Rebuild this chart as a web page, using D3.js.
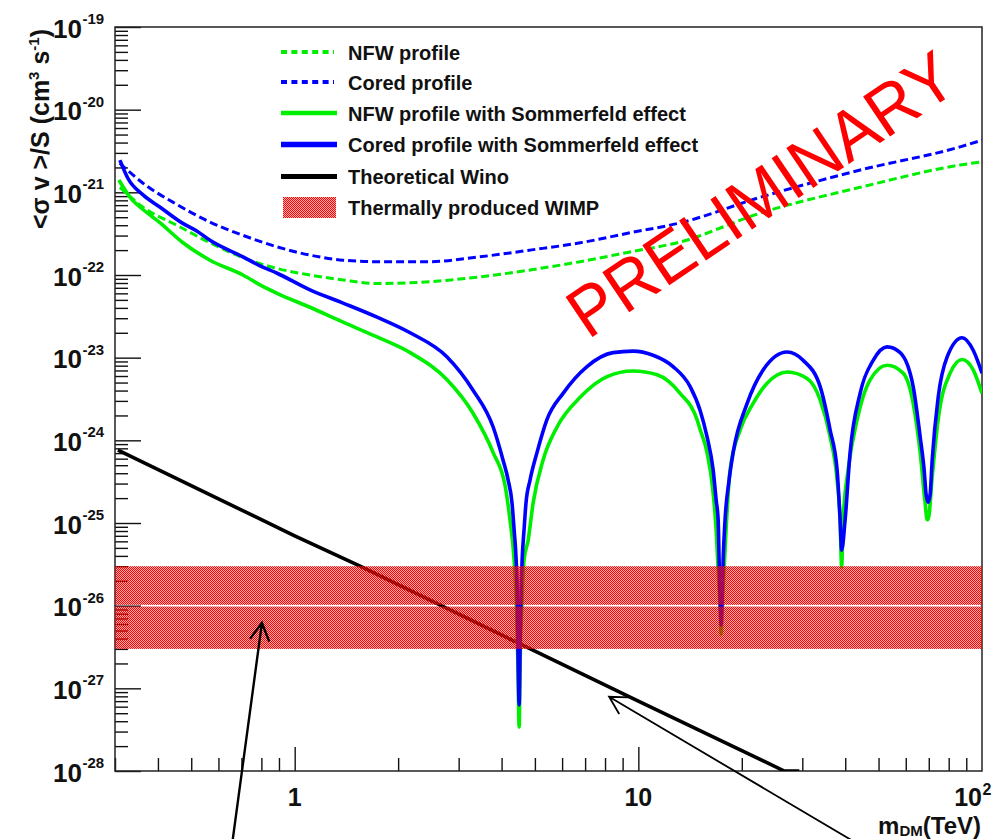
<!DOCTYPE html>
<html>
<head>
<meta charset="utf-8">
<script src="https://cdn.jsdelivr.net/npm/d3@7"></script>
<style>
  body { margin: 0; background: #fff; }
  svg { display: block; font-family: "Liberation Sans", Arial, sans-serif; }
</style>
</head>
<body>
<svg id="chart" width="1001" height="839"></svg>
<script>
// Dark-matter annihilation limits vs. mass: <σv>/S in cm^3 s^-1, m_DM in TeV
const nfwProfile = [
  [0.31, 1.15e-21], [0.362, 6.6e-22], [0.455, 3.98e-22], [0.567, 2.45e-22],
  [0.707, 1.62e-22], [0.889, 1.2e-22], [1.108, 1.0e-22], [1.383, 8.7e-23],
  [1.736, 7.9e-23], [2.48, 8.3e-23], [3.46, 9.5e-23], [4.84, 1.15e-22],
  [6.77, 1.45e-22], [9.46, 1.9e-22], [13.23, 2.51e-22], [22.61, 5.6e-22],
  [44.19, 1.15e-21], [86.4, 2.14e-21], [100, 2.34e-21]
];
const coredProfile = [
  [0.31, 2.24e-21], [0.362, 1.29e-21], [0.455, 7.1e-22], [0.567, 4.37e-22],
  [0.707, 3.02e-22], [0.889, 2.19e-22], [1.108, 1.74e-22], [1.383, 1.51e-22],
  [1.736, 1.45e-22], [2.48, 1.45e-22], [3.46, 1.66e-22], [4.84, 2.0e-22],
  [6.77, 2.45e-22], [9.46, 3.24e-22], [13.23, 4.27e-22], [22.61, 8.7e-22],
  [44.19, 1.86e-21], [86.4, 3.55e-21], [100, 4.27e-21]
];
const nfwSommerfeld = [
  [0.308, 1.41e-21], [0.332, 8.7e-22], [0.362, 6.2e-22], [0.406, 4.27e-22],
  [0.470, 2.51e-22], [0.567, 1.51e-22], [0.707, 1.0e-22], [0.793, 7.6e-23],
  [0.889, 6.0e-23], [1.108, 4.07e-23], [1.383, 2.69e-23], [1.736, 1.78e-23],
  [2.167, 1.15e-23], [2.776, 5.4e-24], [3.30, 2.14e-24], [3.78, 7.1e-25],
  [4.10, 2.75e-25], [4.23, 1.1e-25], [4.35, 3.55e-26], [4.41, 1.17e-26],
  [4.46, 2.2e-27], [4.50, 3.4e-28], [4.53, 2.2e-27], [4.59, 1.17e-26],
  [4.65, 3.55e-26], [4.78, 6.2e-26], [4.94, 1.74e-25], [5.28, 5.75e-25],
  [5.80, 1.45e-24], [6.77, 3.31e-24], [8.11, 5.9e-24], [9.65, 6.9e-24],
  [11.34, 6.2e-24], [13.23, 3.7e-24], [14.82, 1.78e-24], [15.13, 1.35e-24],
  [15.85, 7.1e-25], [16.51, 2.3e-25], [16.84, 8.3e-26], [17.07, 2.7e-26],
  [17.30, 8.9e-27], [17.41, 4.5e-27], [17.53, 8.9e-27], [17.76, 2.7e-26],
  [18.0, 8.3e-26], [18.49, 4.37e-25], [19.77, 1.33e-24], [21.58, 2.8e-24],
  [23.70, 4.9e-24], [27.10, 6.7e-24], [30.98, 5.6e-24], [33.81, 3.09e-24],
  [36.15, 1.1e-24], [37.88, 3.31e-25], [38.64, 1.1e-25], [39.05, 2.95e-26],
  [39.44, 1.1e-25], [40.77, 4.37e-25], [43.32, 1.78e-24], [47.26, 5.4e-24],
  [52.97, 8.1e-24], [58.95, 6.5e-24], [63.06, 2.8e-24], [66.08, 7.1e-25],
  [68.33, 1.74e-25], [69.25, 1.1e-25], [69.70, 1.1e-25], [71.62, 3.6e-25],
  [74.55, 1.78e-24], [80.77, 6.5e-24], [87.53, 9.5e-24], [94.27, 7.1e-24],
  [100, 3.7e-24]
];
const coredSommerfeld = [
  [0.310, 2.45e-21], [0.327, 1.48e-21], [0.362, 9.3e-22], [0.406, 6.6e-22],
  [0.470, 4.27e-22], [0.520, 3.39e-22], [0.567, 2.63e-22], [0.707, 1.66e-22],
  [0.793, 1.29e-22], [0.889, 1.05e-22], [1.108, 6.6e-23], [1.383, 4.57e-23],
  [1.736, 3.09e-23], [2.167, 2.0e-23], [2.776, 1.02e-23], [3.30, 4.07e-24],
  [3.78, 1.45e-24], [4.04, 5.75e-25], [4.18, 3.31e-25], [4.29, 1.74e-25],
  [4.35, 8.3e-26], [4.41, 3.55e-26], [4.44, 1.55e-26], [4.46, 3.8e-27],
  [4.50, 6.3e-28], [4.53, 3.8e-27], [4.56, 1.55e-26], [4.59, 3.55e-26],
  [4.65, 8.3e-26], [4.71, 1.74e-25], [4.84, 3.31e-25], [5.07, 7.1e-25],
  [5.42, 1.78e-24], [6.04, 3.7e-24], [7.09, 7.8e-24], [8.44, 1.15e-23],
  [9.65, 1.2e-23], [11.04, 1.07e-23], [12.62, 7.8e-24], [14.15, 4.47e-24],
  [15.13, 2.3e-24], [15.85, 1.1e-24], [16.51, 4.37e-25], [16.84, 1.9e-25],
  [17.07, 1.1e-25], [17.18, 3.55e-26], [17.30, 1.17e-26], [17.41, 5.9e-27],
  [17.53, 1.17e-26], [17.65, 3.55e-26], [17.88, 1.1e-25], [18.37, 3.31e-25],
  [18.87, 7.1e-25], [20.73, 2.8e-24], [23.07, 7.1e-24], [27.10, 1.17e-23],
  [30.16, 9.3e-24], [33.81, 4.47e-24], [36.15, 1.33e-24], [37.88, 4.37e-25],
  [38.64, 1.1e-25], [39.05, 4.7e-26], [39.97, 1.1e-25], [41.32, 7.1e-25],
  [44.19, 3.7e-24], [48.24, 9.3e-24], [52.97, 1.35e-23], [57.79, 1.15e-23],
  [63.06, 4.47e-24], [66.08, 1.1e-24], [67.87, 4.37e-25], [68.78, 2.19e-25],
  [69.70, 1.78e-25], [70.64, 2.19e-25], [71.62, 5.75e-25], [74.55, 3.31e-24],
  [79.17, 1.02e-23], [87.53, 1.74e-23], [94.27, 1.23e-23], [100, 6.5e-24]
];
const winoTheory = [
  [0.306, 7.6e-25], [1.0, 7.0e-26], [1.55, 3.0e-26], [4.62, 3.3e-27],
  [10.0, 7.0e-28], [26.6, 1.0e-28], [29.4, 1.0e-28]
];
// thermal relic band and its central value
const thermalBand = [3e-27, 3e-26];
const thermalCentral = 1e-26;

const massDomain = [0.3, 100];
const sigmaDomain = [1e-28, 1e-19];
const yTickExponents = [-19, -20, -21, -22, -23, -24, -25, -26, -27, -28];
const xTickLabels = [
  { value: 1, base: "1", sup: "" },
  { value: 10, base: "10", sup: "" },
  { value: 100, base: "10", sup: "2" }
];
const legendLabels = [
  "NFW profile",
  "Cored profile",
  "NFW profile with Sommerfeld effect",
  "Cored profile with Sommerfeld effect",
  "Theoretical Wino",
  "Thermally produced WIMP"
];
// annotation arrows (tip / tail in data coordinates)
const arrowNotes = [
  { tip: [0.803, 6.2e-27], tail: [0.657, 1.27e-29], width: 2.4 },
  { tip: [8.22, 7.9e-28], tail: [47.3, 1.07e-29], width: 1.8 }
];

const svg = d3.select("#chart");
const x = d3.scaleLog().domain(massDomain).range([115, 982]);
const y = d3.scaleLog().domain(sigmaDomain).range([771, 27]);
const [x0, x1] = x.range();
const [yBottom, yTop] = y.range();

const defs = svg.append("defs");
defs.append("clipPath").attr("id", "plotClip")
  .append("rect").attr("x", x0).attr("y", yTop)
  .attr("width", x1 - x0).attr("height", yBottom - yTop);
// dithered red fill for the relic band (checkerboard of strong and faint red)
const pat = defs.append("pattern").attr("id", "wimpHatch")
  .attr("width", 2).attr("height", 2).attr("patternUnits", "userSpaceOnUse");
[[0, 0, 1], [1, 1, 1], [1, 0, 0.3], [0, 1, 0.3]].forEach(([px, py, op]) =>
  pat.append("rect").attr("x", px).attr("y", py).attr("width", 1).attr("height", 1)
    .attr("fill", "#ff0000").attr("fill-opacity", op));

// ---- axes (ticks drawn inward) ----
const xMajor = [1, 10];
const xMinor = [];
[0.1, 1, 10].forEach(d => { for (let k = 2; k <= 9; k++) { const v = k * d; if (v > 0.3 && v < 100) xMinor.push(v); } });
const yMajor = yTickExponents.map(e => Math.pow(10, e));
const yMinor = [];
for (let e = -28; e < -19; e++) for (let k = 2; k <= 9; k++) yMinor.push(k * Math.pow(10, e));

function styleAxis(g) {
  g.select(".domain").remove();
  g.selectAll(".tick line").attr("stroke", "#111").attr("stroke-width", 1.4);
}
svg.append("g").attr("transform", `translate(0,${yBottom})`)
  .call(d3.axisBottom(x).tickValues(xMajor).tickSize(-24).tickFormat(() => "")).call(styleAxis);
svg.append("g").attr("transform", `translate(0,${yBottom})`)
  .call(d3.axisBottom(x).tickValues(xMinor).tickSize(-13).tickFormat(() => "")).call(styleAxis);
svg.append("g").attr("transform", `translate(${x0},0)`)
  .call(d3.axisLeft(y).tickValues(yMajor).tickSize(-26).tickFormat(() => "")).call(styleAxis);
svg.append("g").attr("transform", `translate(${x0},0)`)
  .call(d3.axisLeft(y).tickValues(yMinor).tickSize(-13).tickFormat(() => "")).call(styleAxis);

svg.append("rect").attr("x", x0).attr("y", yTop)
  .attr("width", x1 - x0).attr("height", yBottom - yTop)
  .attr("fill", "none").attr("stroke", "#222").attr("stroke-width", 1.5);

// y tick labels 10^n
yTickExponents.forEach(e => {
  const ty = y(Math.pow(10, e));
  svg.append("text").attr("x", 82).attr("y", ty + 10.5)
    .attr("text-anchor", "end").attr("font-size", 26).attr("font-weight", "bold")
    .attr("fill", "#111").text("10");
  svg.append("text").attr("x", 82.5).attr("y", ty - 3)
    .attr("font-size", 15).attr("font-weight", "bold").attr("fill", "#111").text(String(e));
});
// x tick labels
xTickLabels.forEach(t => {
  const tx = x(t.value);
  if (t.sup) {
    svg.append("text").attr("x", tx).attr("y", 806).attr("text-anchor", "end")
      .attr("font-size", 25).attr("font-weight", "bold").attr("fill", "#111").text(t.base);
    svg.append("text").attr("x", tx + 0.5).attr("y", 795)
      .attr("font-size", 16).attr("font-weight", "bold").attr("fill", "#111").text(t.sup);
  } else {
    svg.append("text").attr("x", tx).attr("y", 806).attr("text-anchor", "middle")
      .attr("font-size", 25).attr("font-weight", "bold").attr("fill", "#111").text(t.base);
  }
});

// axis titles
const xt = svg.append("text").attr("x", 981).attr("y", 834).attr("text-anchor", "end")
  .attr("font-size", 24).attr("font-weight", "bold").attr("fill", "#111");
xt.append("tspan").text("m");
xt.append("tspan").attr("font-size", 15).attr("dy", 2).text("DM");
xt.append("tspan").attr("dy", -2).text("(TeV)");

const yt = svg.append("text").attr("transform", "translate(49,129) rotate(-90)")
  .attr("text-anchor", "middle").attr("font-size", 25).attr("font-weight", "bold").attr("fill", "#111");
yt.append("tspan").text("<σ v >/S (cm");
yt.append("tspan").attr("font-size", 15).attr("dy", -10).text("3");
yt.append("tspan").attr("dy", 10).text(" s");
yt.append("tspan").attr("font-size", 15).attr("dy", -10).text("-1");
yt.append("tspan").attr("dy", 10).text(")");

// ---- curves ----
const line = d3.line().x(d => x(d[0])).y(d => y(d[1])).curve(d3.curveMonotoneX);
const plot = svg.append("g").attr("clip-path", "url(#plotClip)");

plot.append("path").datum(winoTheory).attr("d", d3.line().x(d => x(d[0])).y(d => y(d[1])))
  .attr("fill", "none").attr("stroke", "#000").attr("stroke-width", 3.6);
plot.append("path").datum(nfwProfile).attr("d", line)
  .attr("fill", "none").attr("stroke", "#00ee00").attr("stroke-width", 3).attr("stroke-dasharray", "8,4");
plot.append("path").datum(coredProfile).attr("d", line)
  .attr("fill", "none").attr("stroke", "#0000ff").attr("stroke-width", 3).attr("stroke-dasharray", "8,4");
plot.append("path").datum(nfwSommerfeld).attr("d", line)
  .attr("fill", "none").attr("stroke", "#00ee00").attr("stroke-width", 3.6).attr("stroke-linejoin", "round");
plot.append("path").datum(coredSommerfeld).attr("d", line)
  .attr("fill", "none").attr("stroke", "#0000ff").attr("stroke-width", 3.6).attr("stroke-linejoin", "round");

// thermal band, split at the central value
const gap = 0.8;
plot.append("rect").attr("x", x0).attr("width", x1 - x0)
  .attr("y", y(thermalBand[1])).attr("height", y(thermalCentral) - gap - y(thermalBand[1]))
  .attr("fill", "url(#wimpHatch)");
plot.append("rect").attr("x", x0).attr("width", x1 - x0)
  .attr("y", y(thermalCentral) + gap).attr("height", y(thermalBand[0]) - y(thermalCentral) - gap)
  .attr("fill", "url(#wimpHatch)");

// ---- legend ----
const legendRows = [52, 82, 113, 144.5, 176.5, 207];
const legendStyles = [
  { color: "#00ee00", width: 4, dash: "6,4.4" },
  { color: "#0000ff", width: 4, dash: "6,4.4" },
  { color: "#00ee00", width: 4.5, dash: null },
  { color: "#0000ff", width: 5.5, dash: null },
  { color: "#000", width: 5, dash: null },
  { band: true }
];
legendLabels.forEach((lab, i) => {
  const ry = legendRows[i];
  const st = legendStyles[i];
  if (st.band) {
    svg.append("rect").attr("x", 283).attr("y", ry - 10).attr("width", 53).attr("height", 21)
      .attr("fill", "url(#wimpHatch)");
  } else {
    const l = svg.append("line").attr("x1", 281).attr("x2", st.dash ? 334 : 337)
      .attr("y1", ry).attr("y2", ry).attr("stroke", st.color).attr("stroke-width", st.width);
    if (st.dash) l.attr("stroke-dasharray", st.dash);
  }
  svg.append("text").attr("x", 348).attr("y", ry + 7.5)
    .attr("font-size", 20).attr("font-weight", "bold").attr("fill", "#111").text(lab);
});

// ---- watermark ----
svg.append("text").attr("transform", "translate(588,340) rotate(-34)")
  .attr("font-size", 70).attr("fill", "#ff0000")
  .attr("textLength", 450).attr("lengthAdjust", "spacingAndGlyphs")
  .text("PRELIMINARY");

// ---- annotation arrows ----
arrowNotes.forEach(a => {
  const tx = x(a.tip[0]), ty = y(a.tip[1]);
  const sx = x(a.tail[0]), sy = y(a.tail[1]);
  const ang = Math.atan2(sy - ty, sx - tx);
  const head = 20, spread = 29 * Math.PI / 180;
  const p1 = [tx + head * Math.cos(ang - spread), ty + head * Math.sin(ang - spread)];
  const p2 = [tx + head * Math.cos(ang + spread), ty + head * Math.sin(ang + spread)];
  svg.append("path")
    .attr("d", `M${sx},${sy}L${tx},${ty}M${p1[0]},${p1[1]}L${tx},${ty}L${p2[0]},${p2[1]}`)
    .attr("fill", "none").attr("stroke", "#000").attr("stroke-width", a.width);
});
</script>
</body>
</html>
